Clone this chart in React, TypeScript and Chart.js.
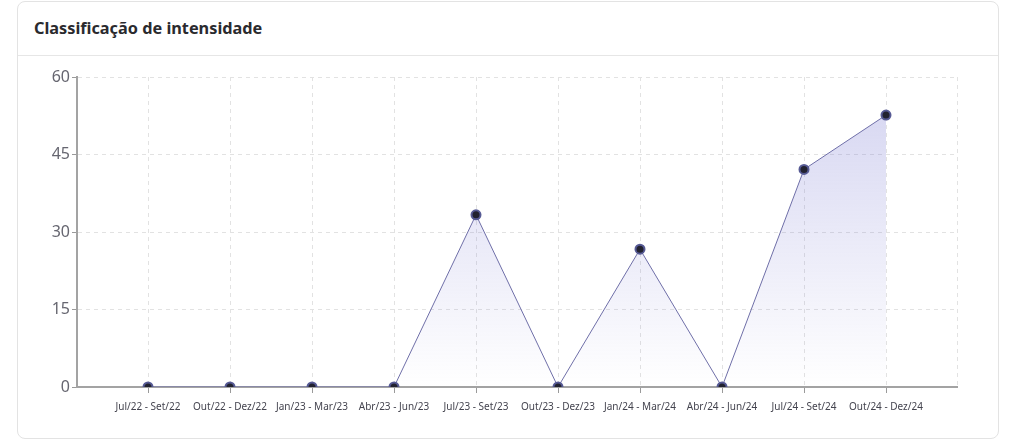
import React, { useEffect, useRef } from "react";
import { Chart, registerables } from "chart.js";

Chart.register(...registerables);

const TITLE = "Classificação de intensidade";
const categories = [
  "Jul/22 - Set/22",
  "Out/22 - Dez/22",
  "Jan/23 - Mar/23",
  "Abr/23 - Jun/23",
  "Jul/23 - Set/23",
  "Out/23 - Dez/23",
  "Jan/24 - Mar/24",
  "Abr/24 - Jun/24",
  "Jul/24 - Set/24",
  "Out/24 - Dez/24",
];
const values = [0, 0, 0, 0, 33.33, 0, 26.67, 0, 42.11, 52.63];
const yTicks = [0, 15, 30, 45, 60];

const FONT = "'Noto Sans', sans-serif";
const EDGE = 71 / 82; // side padding of the x range, in category units

export default function App() {
  const ref = useRef<HTMLCanvasElement | null>(null);

  useEffect(() => {
    if (!ref.current) return;
    const xMin = -EDGE;
    const xMax = categories.length - 1 + EDGE;
    const chart = new Chart(ref.current, {
      type: "line",
      data: {
        datasets: [
          {
            data: values.map((v, i) => ({ x: i, y: v })),
            borderColor: "#6f6fa8",
            borderWidth: 1,
            tension: 0,
            fill: "origin",
            backgroundColor: (ctx: any) => {
              const area = ctx.chart.chartArea;
              if (!area) return "rgba(120,120,210,0.2)";
              const g = ctx.chart.ctx.createLinearGradient(0, area.top, 0, area.bottom);
              g.addColorStop(0, "rgba(120,120,210,0.32)");
              g.addColorStop(1, "rgba(120,120,210,0.0)");
              return g;
            },
            pointRadius: 4.5,
            pointBorderWidth: 2,
            pointBackgroundColor: "#222230",
            pointBorderColor: "#565a94",
          },
        ],
      },
      options: {
        responsive: true,
        maintainAspectRatio: false,
        animation: false,
        layout: { padding: { top: 21, right: 40, left: 0, bottom: 0 } },
        plugins: { legend: { display: false }, tooltip: { enabled: false } },
        scales: {
          x: {
            type: "linear",
            min: xMin,
            max: xMax,
            afterBuildTicks: (scale: any) => {
              scale.ticks = [xMin, ...categories.map((_, i) => i), xMax].map((v) => ({ value: v }));
            },
            afterFit: (scale: any) => {
              scale.height = 49;
            },
            ticks: {
              autoSkip: false,
              maxRotation: 0,
              padding: 8,
              color: "#44444f",
              font: { family: FONT, size: 10 },
              callback: (v: any) => (Number.isInteger(v) ? categories[v] : ""),
            },
            grid: {
              color: "#e2e2e2",
              lineWidth: 1,
              tickLength: 6,
              tickColor: (ctx: any) =>
                ctx.tick && Number.isInteger(ctx.tick.value) ? "#9a9a9a" : "rgba(0,0,0,0)",
            },
            border: { display: true, color: "#a3a3a3", width: 2, dash: [4, 4] },
          },
          y: {
            min: 0,
            max: 60,
            afterBuildTicks: (scale: any) => {
              scale.ticks = yTicks.map((v) => ({ value: v }));
            },
            afterFit: (scale: any) => {
              scale.width = 59;
            },
            ticks: {
              padding: 2,
              color: "#666670",
              font: { family: FONT, size: 16 },
            },
            grid: {
              color: "#e2e2e2",
              lineWidth: 1,
              tickLength: 5,
              tickColor: "#9a9a9a",
            },
            border: { display: true, color: "#a3a3a3", width: 2, dash: [4, 4] },
          },
        },
      },
    });
    return () => chart.destroy();
  }, []);

  return (
    <div style={{ position: "absolute", left: 0, top: 0, width: 1017, height: 445 }}>
      <div
        style={{
          position: "absolute",
          left: 17,
          top: 1,
          width: 982,
          height: 438,
          boxSizing: "border-box",
          border: "1px solid #e3e3e3",
          borderRadius: 8,
          background: "#fff",
        }}
      />
      <div style={{ position: "absolute", left: 18, top: 55, width: 980, height: 1, background: "#e6e6e6" }} />
      <div
        style={{
          position: "absolute",
          left: 34,
          top: 16,
          fontFamily: FONT,
          fontWeight: 700,
          fontSize: 16.3,
          color: "#2a2a2e",
          lineHeight: "24px",
          whiteSpace: "nowrap",
        }}
      >
        {TITLE}
      </div>
      <div style={{ position: "absolute", left: 18, top: 56, width: 979, height: 380 }}>
        <canvas ref={ref} />
      </div>
    </div>
  );
}
